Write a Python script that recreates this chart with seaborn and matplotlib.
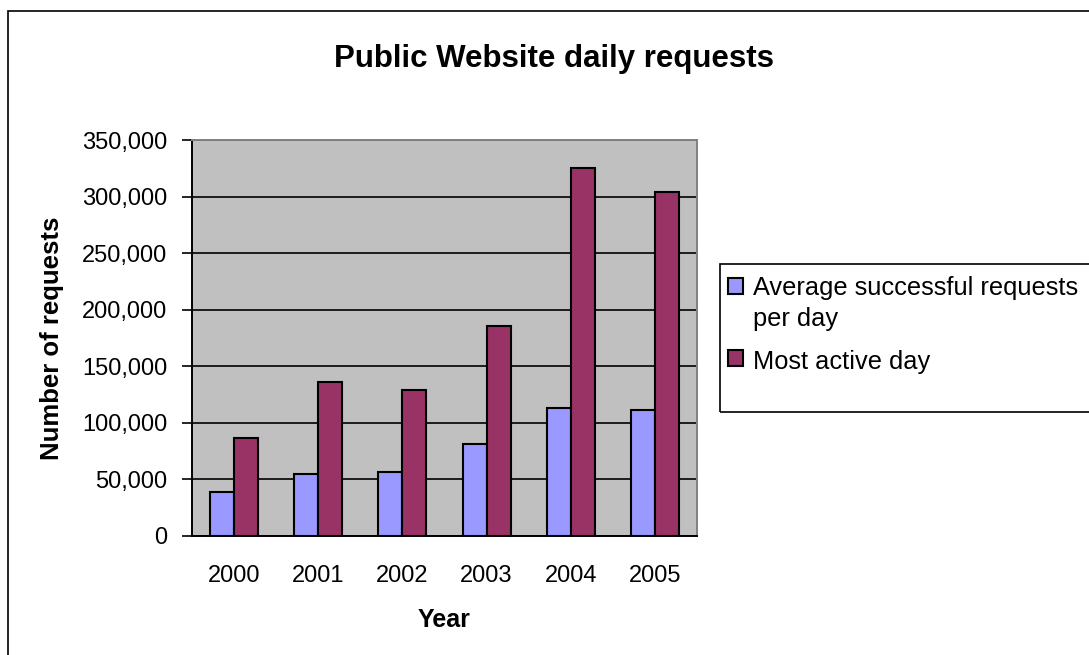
import numpy as np
import pandas as pd
import matplotlib
matplotlib.use("Agg")
import matplotlib.pyplot as plt
from matplotlib.patches import Rectangle
from matplotlib.legend_handler import HandlerPatch
from matplotlib.ticker import FuncFormatter
import seaborn as sns

years = ["2000", "2001", "2002", "2003", "2004", "2005"]
avg_requests = [38500, 54800, 56500, 81300, 113000, 111300]
most_active = [86500, 136000, 129000, 185500, 325000, 303900]
series_names = ["Average successful requests\nper day", "Most active day"]
colors = ["#9999FF", "#993366"]

df = pd.DataFrame({
    "Year": years * 2,
    "Requests": avg_requests + most_active,
    "Series": [series_names[0]] * len(years) + [series_names[1]] * len(years),
})

sns.set_style("white")
plt.rcParams["font.family"] = ["Liberation Sans", "DejaVu Sans"]
plt.rcParams.update({"text.color": "black", "axes.labelcolor": "black",
                     "xtick.color": "black", "ytick.color": "black"})

fig = plt.figure(figsize=(10.89, 6.55), dpi=100)
ax = fig.add_axes([192 / 1089, 119 / 655, 505 / 1089, 396 / 655])

sns.barplot(data=df, x="Year", y="Requests", hue="Series", order=years,
            hue_order=series_names, palette=colors, width=0.57,
            edgecolor="black", linewidth=1.5, saturation=1, ax=ax, zorder=3)

ax.set_facecolor("#C0C0C0")
ax.set_ylim(0, 350000)
ax.set_xlim(-0.5, 5.5)
ax.set_yticks(np.arange(0, 350001, 50000))
ax.yaxis.set_major_formatter(FuncFormatter(lambda v, p: f"{int(v):,}"))
ax.grid(axis="y", color="black", linewidth=1.2, zorder=0)
ax.set_axisbelow(True)

ax.set_xticks(np.arange(-0.5, 6, 1), minor=True)
ax.tick_params(axis="x", which="major", length=0, labelsize=17, pad=21)
ax.tick_params(axis="x", which="minor", length=7, width=1.2, color="black", direction="out")
ax.tick_params(axis="y", length=7, width=1.2, color="black", direction="out",
               left=True, labelsize=17, pad=11)

for s in ["left", "bottom"]:
    ax.spines[s].set_color("black")
    ax.spines[s].set_linewidth(1.4)
for s in ["top", "right"]:
    ax.spines[s].set_color("#808080")
    ax.spines[s].set_linewidth(1.4)

ax.set_xlabel("Year", fontsize=18, fontweight="bold", labelpad=15)
ax.set_ylabel("Number of requests", fontsize=18.5, fontweight="bold", labelpad=13)

fig.text(554 / 1089, 1 - 59 / 655, "Public Website daily requests",
         fontsize=22.5, fontweight="bold", ha="center", va="center")

# chart border and legend box
fig.patches.append(Rectangle((8 / 1089, -0.1), 1.2, 1 - 11 / 655 + 0.1,
                             transform=fig.transFigure, fill=False,
                             edgecolor="black", linewidth=1.2))
fig.patches.append(Rectangle((720 / 1089, 1 - 412 / 655), 0.4, 148 / 655,
                             transform=fig.transFigure, fill=False,
                             edgecolor="black", linewidth=1.2))


def square_at(offset):
    # legend square, shifted up so it sits on the first text line
    def make(legend, orig_handle, xdescent, ydescent, width, height, fontsize):
        return Rectangle((-xdescent, -ydescent + offset), width, height)
    return HandlerPatch(patch_func=make)


ax.get_legend().remove()
handles = [Rectangle((0, 0), 1, 1, facecolor=c, edgecolor="black", linewidth=1.5)
           for c in colors]
leg = fig.legend(handles, series_names, loc="upper left",
                 bbox_to_anchor=(728 / 1089, 1 - 276 / 655), frameon=False,
                 fontsize=18.3, handlelength=0.6, handleheight=0.6, handletextpad=0.4,
                 labelspacing=0.75, borderaxespad=0, borderpad=0.0,
                 handler_map={handles[0]: square_at(13), handles[1]: square_at(1)})
for t in leg.get_texts():
    t.set_linespacing(1.35)

fig.savefig("out.png", dpi=100)
